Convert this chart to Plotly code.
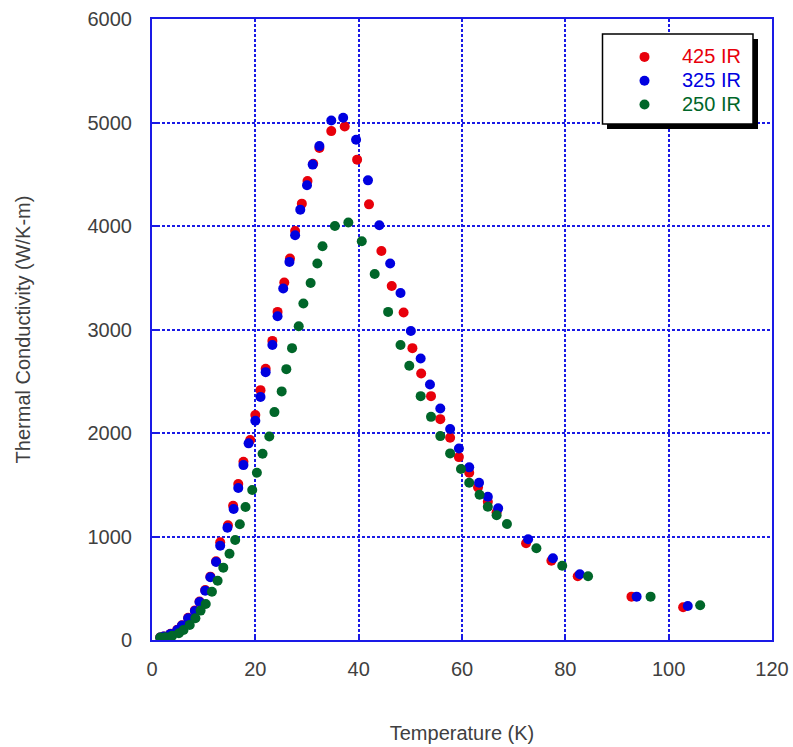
import plotly.graph_objects as go

# Temperature (K) and thermal conductivity (W/K-m)
red_T = [1.6, 2.3, 3.6, 4.9, 5.8, 7.0, 8.3, 9.2, 10.3, 11.3, 12.4, 13.2, 14.7, 15.7, 16.7, 17.7, 19.0, 20.0, 21.0, 22.0,
         23.3, 24.3, 25.6, 26.7, 27.7, 29.0, 30.1, 31.2, 32.4, 34.7, 37.3, 39.7, 42.0, 44.4, 46.4, 48.7, 50.4, 52.1,
         54.0, 55.8, 57.7, 59.4, 61.4, 63.1, 65.0, 66.7, 72.4, 77.3, 82.4, 92.8, 102.8]
red_K = [25, 35, 60, 100, 142, 214, 286, 372, 482, 612, 760, 944, 1108, 1297, 1507, 1722, 1932, 2173, 2414, 2620,
         2890, 3170, 3454, 3685, 3952, 4216, 4434, 4602, 4753, 4917, 4962, 4641, 4209, 3759, 3421, 3164, 2820, 2575,
         2356, 2134, 1954, 1767, 1616, 1475, 1336, 1234, 934, 766, 616, 419, 317]

blue_T = [1.6, 2.3, 3.6, 4.9, 5.8, 7.0, 8.3, 9.2, 10.3, 11.3, 12.4, 13.2, 14.6, 15.8, 16.7, 17.7, 18.7, 20.0, 21.0, 22.0,
          23.3, 24.3, 25.4, 26.6, 27.7, 28.7, 30.0, 31.1, 32.4, 34.7, 37.0, 39.5, 41.8, 44.0, 46.1, 48.1, 50.1, 52.0,
          53.8, 55.8, 57.7, 59.4, 61.4, 63.3, 65.0, 67.0, 72.8, 77.6, 82.8, 93.8, 103.7]
blue_K = [23, 33, 59, 97, 139, 210, 281, 367, 477, 606, 754, 911, 1085, 1265, 1468, 1690, 1900, 2118, 2349, 2588,
          2851, 3128, 3396, 3653, 3910, 4158, 4393, 4593, 4772, 5020, 5046, 4834, 4441, 4007, 3637, 3353, 2986, 2720,
          2469, 2237, 2038, 1851, 1668, 1519, 1384, 1272, 973, 790, 635, 419, 329]

green_T = [1.6, 2.6, 3.9, 5.2, 6.1, 7.3, 8.4, 9.4, 10.4, 11.6, 12.7, 13.8, 15.0, 16.1, 17.0, 18.1, 19.4, 20.3, 21.4, 22.7,
           23.7, 25.1, 26.0, 27.1, 28.4, 29.3, 30.7, 32.0, 33.0, 35.4, 38.0, 40.6, 43.1, 45.7, 48.1, 49.8, 52.0, 54.0,
           55.8, 57.7, 59.8, 61.4, 63.4, 65.0, 66.7, 68.7, 74.4, 79.4, 84.4, 96.5, 106.1]
green_K = [23, 27, 40, 66, 97, 146, 210, 284, 348, 467, 573, 699, 834, 966, 1118, 1285, 1449, 1616, 1799, 1967,
           2202, 2402, 2617, 2820, 3032, 3251, 3450, 3637, 3804, 4000, 4033, 3852, 3537, 3170, 2851, 2649, 2356, 2156,
           1970, 1803, 1652, 1519, 1403, 1288, 1205, 1121, 886, 718, 616, 419, 336]

series_names = ["425 IR", "325 IR", "250 IR"]
series_colors = ["#e8000b", "#0000e0", "#006629"]
x_ticks = [0, 20, 40, 60, 80, 100, 120]
y_ticks = [0, 1000, 2000, 3000, 4000, 5000, 6000]

AXC = "#1a1ae6"
TXT = "#404040"
FONT = "Liberation Sans, Arial, sans-serif"

fig = go.Figure()
for T, K, name, col in zip([red_T, blue_T, green_T], [red_K, blue_K, green_K], series_names, series_colors):
    fig.add_trace(go.Scatter(
        x=T, y=K, mode="markers",
        name=f"<span style='color:{col};font-size:20px'>{name}</span>",
        marker=dict(color=col, size=10, line=dict(width=0)),
    ))

L, R, T0, B = 152, 21, 19, 107
W, H = 793, 747
pw, ph = W - L - R, H - T0 - B

def px2paper(x, y):
    return (x - L) / pw, (H - B - y) / ph

# legend box with drop shadow
sx0, sy0 = px2paper(607, 129)
sx1, sy1 = px2paper(758, 39)
bx0, by0 = px2paper(602.5, 124)
bx1, by1 = px2paper(753, 34)
fig.add_shape(type="rect", xref="paper", yref="paper", x0=sx0, y0=sy0, x1=sx1, y1=sy1,
              fillcolor="black", line=dict(width=0), layer="above")
fig.add_shape(type="rect", xref="paper", yref="paper", x0=bx0, y0=by0, x1=bx1, y1=by1,
              fillcolor="white", line=dict(color="black", width=1.5), layer="above")

lx, ly = px2paper(607, 40)

fig.update_layout(
    width=W, height=H,
    margin=dict(l=L, r=R, t=T0, b=B, autoexpand=False),
    paper_bgcolor="white", plot_bgcolor="white",
    font=dict(family=FONT, size=20, color=TXT),
    showlegend=True,
    legend=dict(x=lx, y=ly, xanchor="left", yanchor="top", bgcolor="rgba(0,0,0,0)",
                borderwidth=0, font=dict(family=FONT, size=16), itemwidth=65, tracegroupgap=0),
    xaxis=dict(
        range=[0, 120], tickmode="array", tickvals=x_ticks, ticktext=[str(v) for v in x_ticks],
        showline=True, linecolor=AXC, linewidth=2, mirror=True,
        ticks="inside", ticklen=6, tickwidth=2, tickcolor=AXC,
        showgrid=True, gridcolor=AXC, gridwidth=1.5, griddash="3px,2px",
        zeroline=False, ticklabelstandoff=10,
        tickfont=dict(family=FONT, size=20, color=TXT),
        title=dict(text="Temperature (K)", font=dict(family=FONT, size=20, color=TXT), standoff=47),
    ),
    yaxis=dict(
        range=[0, 6000], tickmode="array", tickvals=y_ticks, ticktext=[str(v) for v in y_ticks],
        showline=True, linecolor=AXC, linewidth=2, mirror=True,
        ticks="inside", ticklen=6, tickwidth=2, tickcolor=AXC,
        showgrid=True, gridcolor=AXC, gridwidth=1.5, griddash="3px,2px",
        zeroline=False, ticklabelstandoff=14,
        tickfont=dict(family=FONT, size=20, color=TXT),
        title=dict(text="Thermal Conductivity (W/K-m)", font=dict(family=FONT, size=20, color=TXT), standoff=52),
    ),
)

fig.write_html("out.html")
